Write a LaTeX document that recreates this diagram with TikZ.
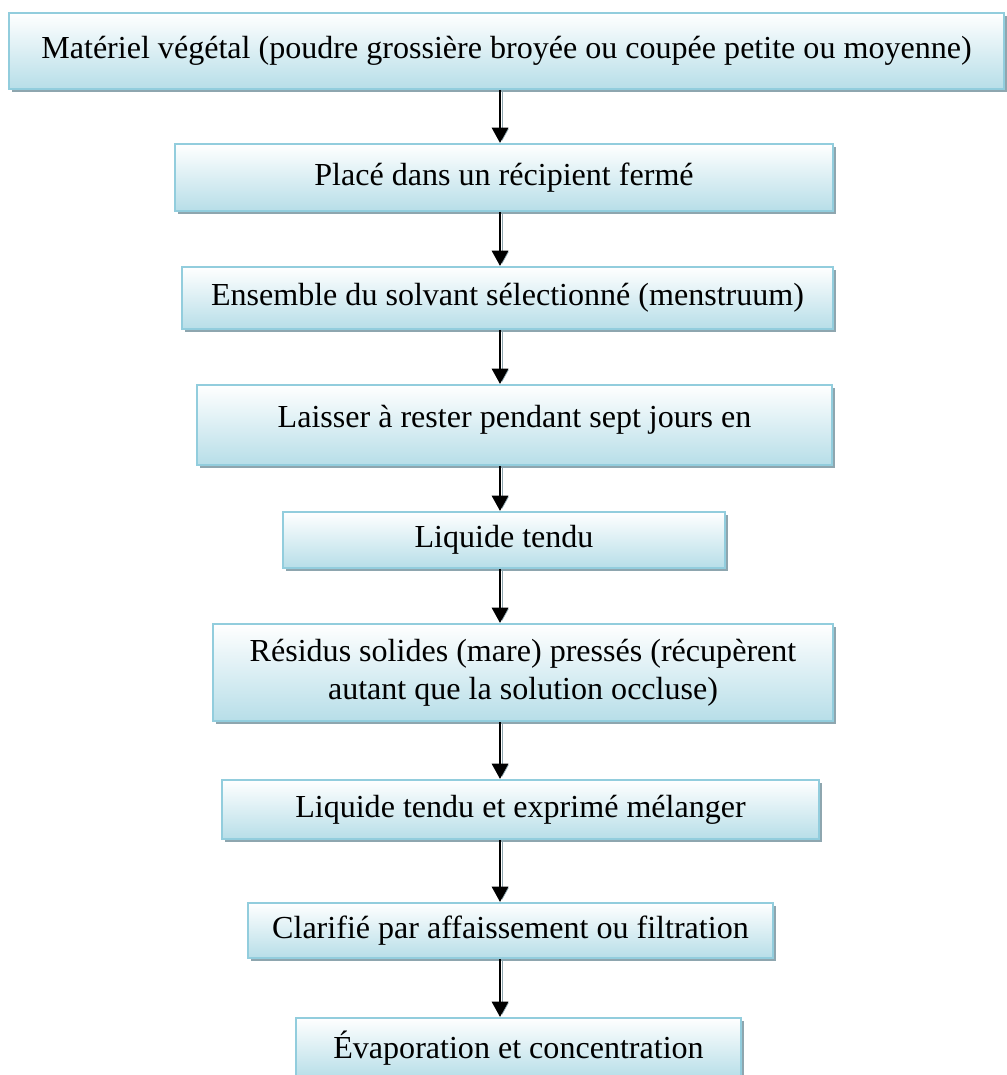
\documentclass[tikz,border=0pt]{standalone}
\usepackage{fontspec}
\setmainfont{Liberation Serif}
\usetikzlibrary{arrows.meta,shadows}
\definecolor{boxbottom}{RGB}{183,222,232}
\definecolor{boxline}{RGB}{146,205,221}
\definecolor{boxshadow}{RGB}{142,166,175}
\tikzset{
    stepbox/.style={rectangle, draw=boxline, line width=1.4pt, top color=white, bottom color=boxbottom,
        drop shadow={shadow xshift=2.1pt, shadow yshift=-2.1pt, fill=boxshadow, opacity=1},
        font=\fontsize{22.8}{27}\selectfont, align=center, inner sep=0pt},
    flow arrow/.style={-{Triangle[width=11.5pt,length=11pt]}, line width=2pt, black,
        preaction={draw=boxshadow, transform canvas={xshift=1.6pt}}}
}

\begin{document}
\begin{tikzpicture}[x=0.025cm, y=-0.025cm]
    \useasboundingbox (0,0) rectangle (1006,1075);
    \coordinate (spine) at (500,0);

    % Steps
    \node[stepbox, minimum width=24.875cm, minimum height=1.9cm] (material) at (506.5,51)
        {Matériel végétal (poudre grossière broyée ou coupée petite ou moyenne)};
    \node[stepbox, minimum width=16.45cm, minimum height=1.675cm] (vessel) at (504,177.5)
        {Placé dans un récipient fermé};
    \node[stepbox, minimum width=16.275cm, minimum height=1.55cm] (solvent) at (507.5,298)
        {Ensemble du solvant sélectionné (menstruum)};
    \node[stepbox, minimum width=15.875cm, minimum height=2cm, text depth=0.45cm] (rest) at (514.5,425)
        {Laisser à rester pendant sept jours en};
    \node[stepbox, minimum width=11.05cm, minimum height=1.4cm] (strained) at (504,540)
        {Liquide tendu};
    \node[stepbox, minimum width=15.5cm, minimum height=2.425cm] (residue) at (523,672.5)
        {Résidus solides (mare) pressés (récupèrent\\ autant que la solution occluse)};
    \node[stepbox, minimum width=14.925cm, minimum height=1.475cm] (mixed) at (520.5,809.5)
        {Liquide tendu et exprimé mélanger};
    \node[stepbox, minimum width=13.125cm, minimum height=1.375cm] (clarified) at (510.5,930.5)
        {Clarifié par affaissement ou filtration};
    \node[stepbox, minimum width=11.125cm, minimum height=1.5cm] (evaporation) at (518.5,1048)
        {Évaporation et concentration};

    % Flow
    \draw[flow arrow] (material.south -| spine) -- (vessel.north -| spine);
    \draw[flow arrow] (vessel.south -| spine) -- (solvent.north -| spine);
    \draw[flow arrow] (solvent.south -| spine) -- (rest.north -| spine);
    \draw[flow arrow] (rest.south -| spine) -- (strained.north -| spine);
    \draw[flow arrow] (strained.south -| spine) -- (residue.north -| spine);
    \draw[flow arrow] (residue.south -| spine) -- (mixed.north -| spine);
    \draw[flow arrow] (mixed.south -| spine) -- (clarified.north -| spine);
    \draw[flow arrow] (clarified.south -| spine) -- (evaporation.north -| spine);
\end{tikzpicture}
\end{document}
